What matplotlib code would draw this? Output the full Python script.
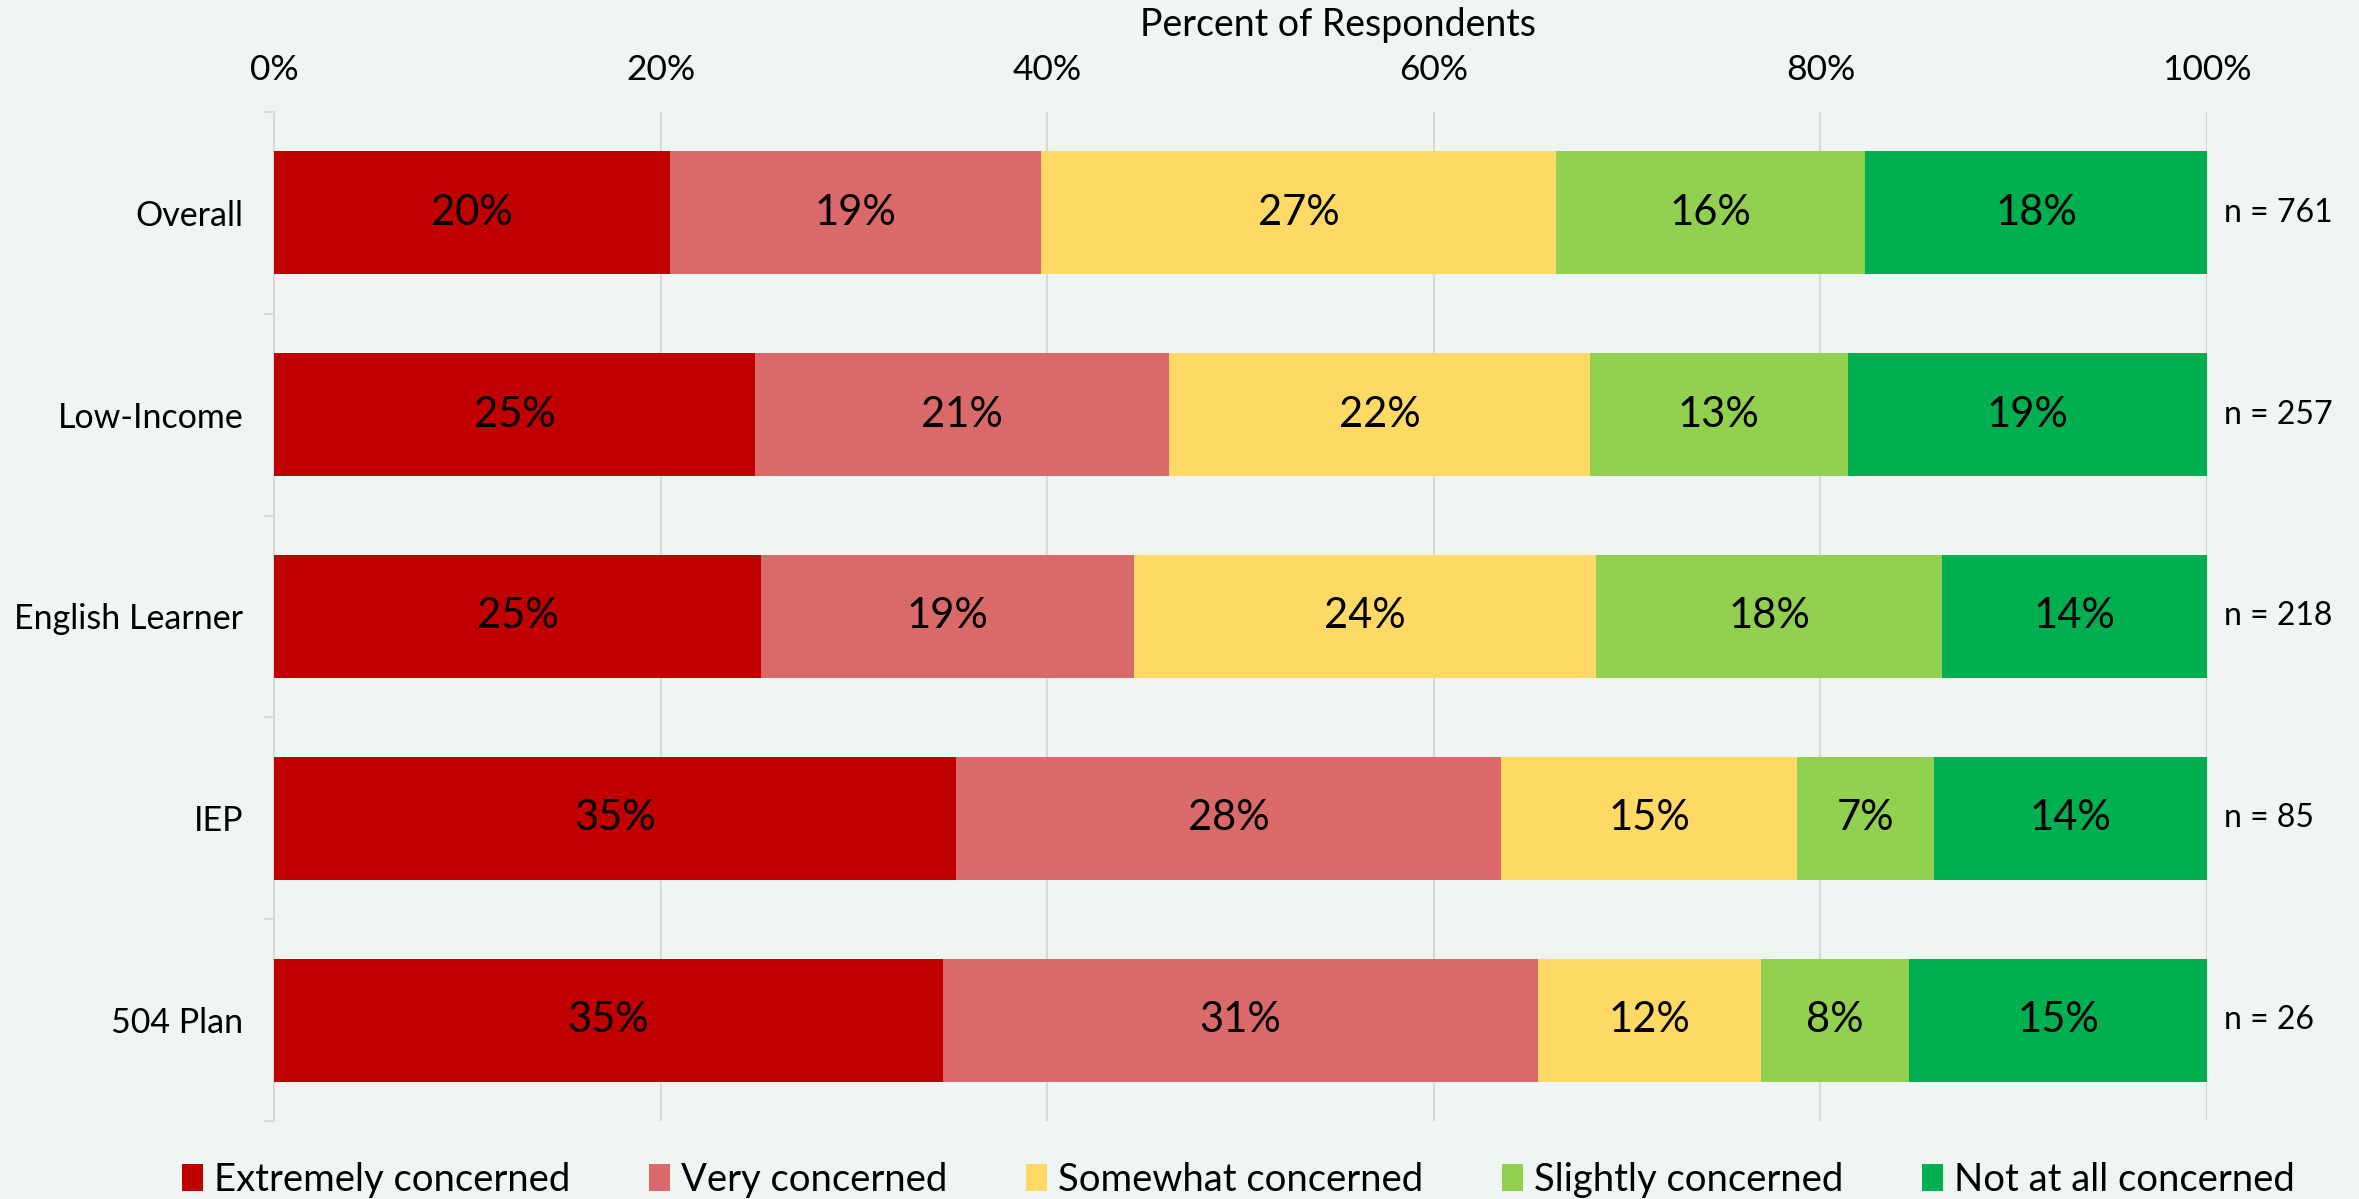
import numpy as np
import matplotlib.pyplot as plt
from matplotlib.patches import Patch

plt.rcParams['font.family'] = ['Lato', 'DejaVu Sans']

groups = ['Overall', 'Low-Income', 'English Learner', 'IEP', '504 Plan']
n_sizes = [761, 257, 218, 85, 26]
levels = ['Extremely concerned', 'Very concerned', 'Somewhat concerned',
          'Slightly concerned', 'Not at all concerned']
colors = ['#C00000', '#DA6969', '#FFD966', '#92D050', '#00B050']

extremely = [20.5, 24.9, 25.2, 35.3, 34.6]
very = [19.2, 21.4, 19.3, 28.2, 30.8]
somewhat = [26.6, 21.8, 23.9, 15.3, 11.5]
slightly = [16.0, 13.3, 17.9, 7.1, 7.7]
not_at_all = [17.7, 18.6, 13.7, 14.1, 15.4]
series = [extremely, very, somewhat, slightly, not_at_all]

bg = '#EFF5F2'
grid_c = '#D9D9D9'

fig = plt.figure(figsize=(23.59, 11.99), dpi=100, facecolor=bg)
ax = fig.add_axes([0.1161, 0.0651, 0.8195, 0.8415], facecolor=bg)

y = np.arange(len(groups))
left = np.zeros(len(groups))
for vals, c in zip(series, colors):
    vals = np.array(vals)
    ax.barh(y, vals, left=left, height=0.61, color=c, zorder=3)
    for yi, (l, v) in enumerate(zip(left, vals)):
        ax.text(l + v / 2, yi, f'{round(v):.0f}%', ha='center', va='center',
                fontsize=30, color='black', zorder=4)
    left += vals

for yi, n in enumerate(n_sizes):
    ax.annotate(f'n = {n}', xy=(100, yi), xytext=(12, 0), textcoords='offset points',
                ha='left', va='center', fontsize=23, annotation_clip=False)

ax.set_xlim(0, 100)
ax.set_ylim(len(groups) - 0.5, -0.5)
ax.xaxis.tick_top()
ax.set_xticks(np.arange(0, 101, 20))
ax.set_xticklabels([f'{t}%' for t in range(0, 101, 20)])
ax.tick_params(axis='x', length=0, pad=19, labelsize=25.5)
ax.set_yticks(y)
ax.set_yticklabels(groups)
ax.set_yticks(np.arange(-0.5, len(groups)), minor=True)
ax.tick_params(axis='y', which='major', length=0, pad=22, labelsize=24.5)
ax.tick_params(axis='y', which='minor', length=7, width=1.5, color=grid_c)
ax.grid(axis='x', color=grid_c, linewidth=1.5, zorder=0)
for s in ['top', 'right', 'bottom']:
    ax.spines[s].set_visible(False)
ax.spines['left'].set_color(grid_c)
ax.spines['left'].set_linewidth(1.5)

fig.text(0.567, 0.979, 'Percent of Respondents', ha='center', va='center', fontsize=27)

handles = [Patch(facecolor=c, label=l) for c, l in zip(colors, levels)]
fig.legend(handles=handles, loc='center', bbox_to_anchor=(0.525, 0.016), ncol=5,
           frameon=False, fontsize=27.5, handlelength=0.55, handleheight=0.75,
           handletextpad=0.3, columnspacing=2.05)

fig.savefig('out.png', dpi=100, facecolor=bg)
